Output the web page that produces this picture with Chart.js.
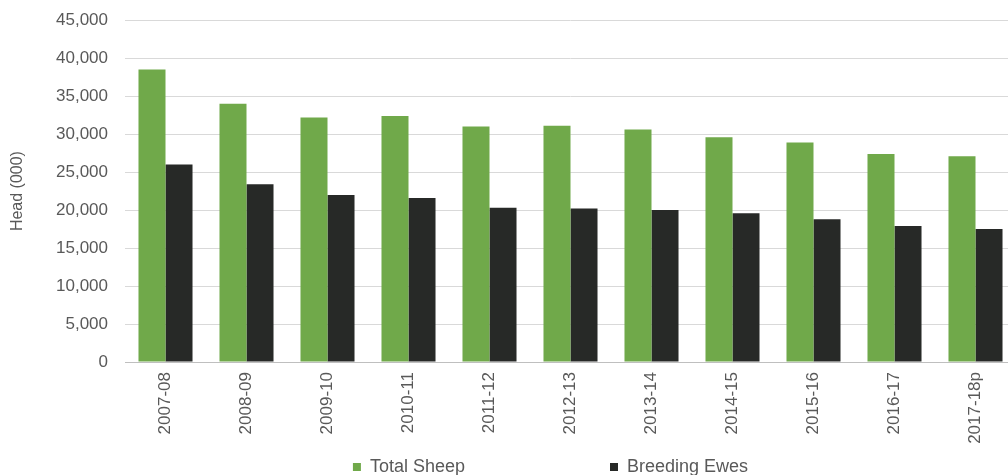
<!DOCTYPE html>
<html>
<head>
<meta charset="utf-8">
<script src="https://cdn.jsdelivr.net/npm/chart.js@4.4.1/dist/chart.umd.min.js"></script>
<style>
  html, body { margin: 0; padding: 0; background: #fff; overflow: hidden; }
  #wrap { position: absolute; left: 0; top: -7px; width: 1016px; height: 493px; }
</style>
</head>
<body>
<div id="wrap"><canvas id="c"></canvas></div>
<script>
const categories = ['2007-08', '2008-09', '2009-10', '2010-11', '2011-12', '2012-13', '2013-14', '2014-15', '2015-16', '2016-17', '2017-18p'];
const totalSheep = [38500, 34000, 32200, 32400, 31000, 31100, 30600, 29600, 28900, 27400, 27100];
const breedingEwes = [26000, 23400, 22000, 21600, 20300, 20200, 20000, 19600, 18800, 17900, 17500];
const seriesNames = ['Total Sheep', 'Breeding Ewes'];
const yTickMin = 0, yTickMax = 45000, yTickStep = 5000;
const yTitle = 'Head (000)';

const FONT = "'Liberation Sans', Arial, Helvetica, sans-serif";
const TEXT = '#595959';

new Chart(document.getElementById('c'), {
  type: 'bar',
  data: {
    labels: categories,
    datasets: [
      { label: seriesNames[0], data: totalSheep, backgroundColor: '#70a94a', borderWidth: 0,
        categoryPercentage: 0.667, barPercentage: 1.0 },
      { label: seriesNames[1], data: breedingEwes, backgroundColor: '#272927', borderWidth: 0,
        categoryPercentage: 0.667, barPercentage: 1.0 }
    ]
  },
  options: {
    responsive: true,
    maintainAspectRatio: false,
    animation: false,
    layout: { padding: { top: 0, left: 0, right: 0, bottom: 0 } },
    plugins: {
      tooltip: { enabled: false },
      legend: {
        position: 'bottom',
        fullSize: false,
        labels: {
          font: { family: FONT, size: 18 },
          color: TEXT,
          boxWidth: 8,
          boxHeight: 8,
          padding: 10,
          generateLabels: function (chart) {
            const items = Chart.defaults.plugins.legend.labels.generateLabels(chart);
            items.forEach(function (it, i) {
              it.lineWidth = 0;
              it.strokeStyle = 'rgba(0,0,0,0)';
              if (i === 0) it.text = it.text + ' '.repeat(27);
              else it.text = it.text + ' '.repeat(8);
            });
            return items;
          }
        }
      }
    },
    scales: {
      x: {
        grid: { display: false, drawTicks: false },
        border: { display: true, color: '#bfbfbf', width: 1 },
        ticks: {
          font: { family: FONT, size: 17 },
          color: TEXT,
          minRotation: 90,
          maxRotation: 90,
          padding: 10,
          autoSkip: false
        },
        afterFit: function (s) { s.height = 86; }
      },
      y: {
        min: yTickMin,
        max: yTickMax,
        ticks: {
          stepSize: yTickStep,
          font: { family: FONT, size: 17 },
          color: TEXT,
          padding: 17
        },
        grid: { color: '#d9d9d9', lineWidth: 1, drawTicks: false },
        border: { display: false },
        title: {
          display: true,
          text: yTitle,
          font: { family: FONT, size: 16 },
          color: TEXT,
          padding: { top: 8, bottom: 0 }
        },
        afterFit: function (s) { s.width = 125; }
      }
    }
  }
});
</script>
</body>
</html>
